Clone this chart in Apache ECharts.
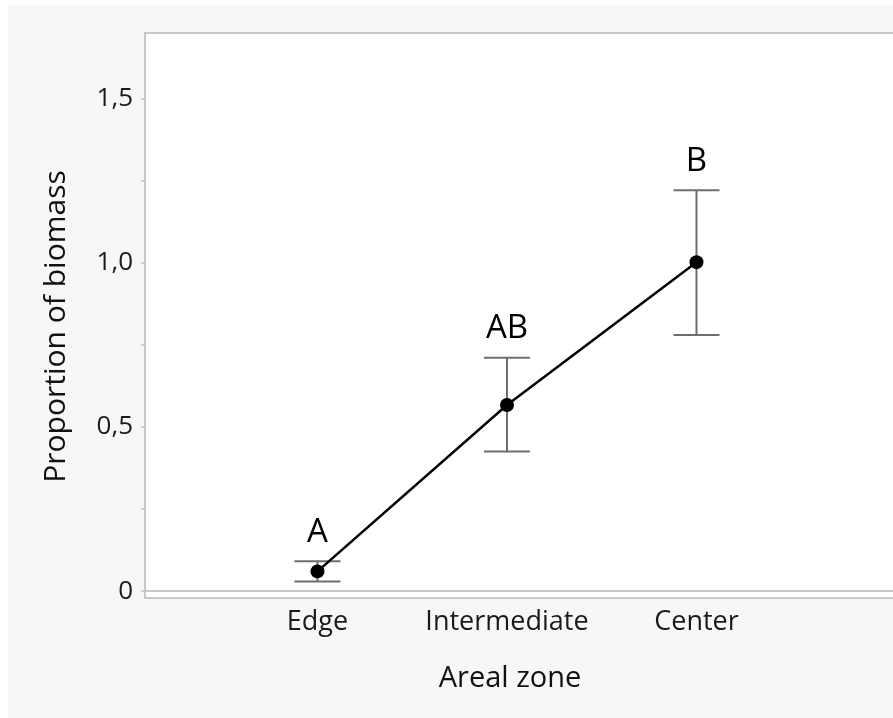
<!DOCTYPE html>
<html>
<head>
<meta charset="utf-8">
<script src="https://cdn.jsdelivr.net/npm/echarts@6/dist/echarts.min.js"></script>
<style>
html,body{margin:0;padding:0;background:#ffffff;width:893px;height:718px;overflow:hidden;}
#chart{position:absolute;left:8px;top:5px;width:885px;height:713px;background:#f7f7f7;}
</style>
</head>
<body>
<div id="chart"></div>
<script>
const categories = ["Edge", "Intermediate", "Center"];
const positions = [1, 2, 3];
const means = [0.06, 0.567, 1.002];
const lowers = [0.029, 0.425, 0.780];
const uppers = [0.091, 0.711, 1.221];
const letters = ["A", "AB", "B"];
const yTickLabels = [0, 0.5, 1.0, 1.5];
const yTicks = [0, 0.25, 0.5, 0.75, 1.0, 1.25, 1.5];

const FONT = "Open Sans";
const chart = echarts.init(document.getElementById('chart'));

const lineData = positions.map((p, i) => [p, means[i]]);
const errData = positions.map((p, i) => [p, lowers[i], uppers[i], letters[i]]);

chart.setOption({
  animation: false,
  backgroundColor: 'transparent',
  grid: {
    left: 137, top: 28, width: 770, bottom: 120,
    outerBoundsMode: 'none', containLabel: false,
    show: true, backgroundColor: '#ffffff', borderColor: '#c8c8c8', borderWidth: 2
  },
  xAxis: {
    type: 'value', min: 0.09, max: 4.153,
    name: 'Areal zone', nameLocation: 'middle', nameGap: 66,
    nameTextStyle: { fontFamily: FONT, fontSize: 29, color: '#111', padding: [0, 40, 0, 0] },
    axisLine: { show: true, lineStyle: { color: '#c8c8c8', width: 2 } },
    axisTick: { show: false },
    splitLine: { show: false },
    axisLabel: {
      customValues: positions,
      formatter: v => categories[positions.indexOf(v)] || '',
      fontFamily: FONT, fontSize: 27, color: '#1a1a1a', margin: 11
    }
  },
  yAxis: {
    type: 'value', min: -0.021, max: 1.70,
    name: 'Proportion of biomass', nameLocation: 'middle', nameGap: 74,
    nameTextStyle: { fontFamily: FONT, fontSize: 30, color: '#111', padding: [0, 22, 0, 0] },
    axisLine: { show: true, lineStyle: { color: '#c8c8c8', width: 2 } },
    axisTick: { show: true, customValues: yTicks, length: 4, lineStyle: { color: '#c8c8c8', width: 1.5 } },
    splitLine: { show: false },
    axisLabel: {
      customValues: yTickLabels,
      formatter: v => v === 0 ? '0' : v.toFixed(1).replace('.', ','),
      fontFamily: FONT, fontSize: 26, color: '#1a1a1a', margin: 12
    }
  },
  series: [
    {
      type: 'custom',
      data: errData,
      z: 2,
      renderItem: function (params, api) {
        const x = api.value(0);
        const lo = api.coord([x, api.value(1)]);
        const hi = api.coord([x, api.value(2)]);
        const hw = 23;
        const style = { stroke: '#6e6e6e', lineWidth: 2 };
        return {
          type: 'group',
          children: [
            { type: 'line', shape: { x1: lo[0], y1: lo[1], x2: hi[0], y2: hi[1] }, style },
            { type: 'line', shape: { x1: hi[0] - hw, y1: hi[1], x2: hi[0] + hw, y2: hi[1] }, style },
            { type: 'line', shape: { x1: lo[0] - hw, y1: lo[1], x2: lo[0] + hw, y2: lo[1] }, style },
            { type: 'text', style: { text: api.value(3), x: hi[0], y: hi[1] - 29, align: 'center', verticalAlign: 'middle', fontFamily: FONT, fontSize: 33, fill: '#000' } }
          ]
        };
      }
    },
    {
      type: 'line',
      data: lineData,
      z: 3,
      symbol: 'circle', symbolSize: 14,
      lineStyle: { color: '#000', width: 2.5 },
      itemStyle: { color: '#000' }
    }
  ]
});
</script>
</body>
</html>
